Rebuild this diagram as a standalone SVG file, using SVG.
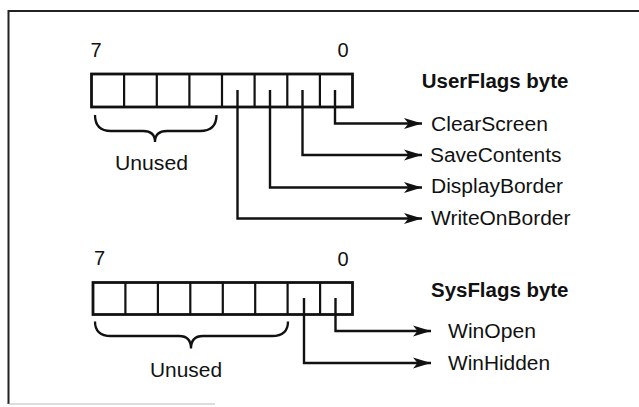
<svg xmlns="http://www.w3.org/2000/svg" width="639" height="407" viewBox="0 0 639 407">
<style>
  .t { font-family: "Liberation Sans", Arial, sans-serif; font-size: 20px; fill: #111; }
  .b { font-weight: bold; }
  .cell { fill: none; stroke: #111; stroke-width: 2.8; }
  .div { stroke: #111; stroke-width: 2.2; }
  .con { fill: none; stroke: #111; stroke-width: 2.4; marker-end: url(#arr); }
  .brace { fill: none; stroke: #111; stroke-width: 2.3; }
</style>
<defs>
  <marker id="arr" markerUnits="userSpaceOnUse" markerWidth="20" markerHeight="14" viewBox="-18 -7 20 14" refX="0" refY="0" orient="auto">
    <path d="M0,0 L-18,-5.5 L-13.5,0 L-18,5.5 Z" fill="#111"/>
  </marker>
</defs>
<rect width="639" height="407" fill="#fff"/>
<g id="frame">
  <path d="M8.5,404 V11 H639" fill="none" stroke="#222" stroke-width="2"/>
  <path d="M8.5,404 H215" fill="none" stroke="#bbb" stroke-width="1.2"/>
</g>
<g id="userflags">
  <text class="t" x="90.5" y="57">7</text>
  <text class="t" x="337.5" y="57">0</text>
  <rect class="cell" x="91.5" y="74" width="261" height="33"/>
  <path class="div" d="M124.1,74V107M156.8,74V107M189.4,74V107M222,74V107M254.6,74V107M287.3,74V107M319.9,74V107"/>
  <text class="t b" x="421.8" y="88" textLength="146.6" lengthAdjust="spacingAndGlyphs">UserFlags byte</text>
  <path class="brace" d="M95,115 Q95,131 111,131 L143,131 Q155,131 155,142 Q155,131 167,131 L200,131 Q216.5,131 216.5,115"/>
  <text class="t" x="115" y="170" textLength="73" lengthAdjust="spacingAndGlyphs">Unused</text>
</g>
<g id="user-labels">
  <text class="t" x="431" y="130.7" textLength="117" lengthAdjust="spacingAndGlyphs">ClearScreen</text>
  <text class="t" x="430" y="161.7" textLength="131.5" lengthAdjust="spacingAndGlyphs">SaveContents</text>
  <text class="t" x="431" y="193" textLength="132" lengthAdjust="spacingAndGlyphs">DisplayBorder</text>
  <text class="t" x="431" y="225" textLength="139.5" lengthAdjust="spacingAndGlyphs">WriteOnBorder</text>
</g>
<g id="sysflags">
  <text class="t" x="94" y="265">7</text>
  <text class="t" x="337.5" y="266">0</text>
  <rect class="cell" x="93" y="282.5" width="259.5" height="32"/>
  <path class="div" d="M125.4,282.5V314.5M157.9,282.5V314.5M190.3,282.5V314.5M222.8,282.5V314.5M255.2,282.5V314.5M287.6,282.5V314.5M320.1,282.5V314.5"/>
  <text class="t b" x="431" y="296.7" textLength="137.5" lengthAdjust="spacingAndGlyphs">SysFlags byte</text>
  <path class="brace" d="M95,321.5 Q95,336 111,336 L179,336 Q191,336 191,348.5 Q191,336 203,336 L272,336 Q288,336 288,321.5"/>
  <text class="t" x="150" y="376.7" textLength="72" lengthAdjust="spacingAndGlyphs">Unused</text>
</g>
<g id="sys-labels">
  <text class="t" x="448" y="338.3" textLength="88" lengthAdjust="spacingAndGlyphs">WinOpen</text>
  <text class="t" x="448" y="370" textLength="102" lengthAdjust="spacingAndGlyphs">WinHidden</text>
</g>
<g id="connectors">
  <path class="con" d="M335,90 V123.5 H422"/>
  <path class="con" d="M302.5,90 V155 H422"/>
  <path class="con" d="M270,90 V187.5 H422"/>
  <path class="con" d="M237.5,90 V218.5 H422"/>
  <path class="con" d="M335.5,298 V331 H431"/>
  <path class="con" d="M304,298 V363 H431"/>
</g>
</svg>
